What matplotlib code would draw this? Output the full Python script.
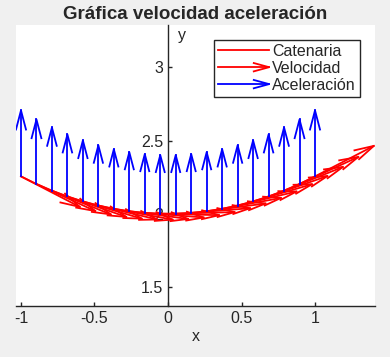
import matplotlib.pyplot as plt
from matplotlib.lines import Line2D
from matplotlib.legend_handler import HandlerBase

plt.rcParams['font.family'] = ['Liberation Sans', 'DejaVu Sans']

# puntos de la catenaria y = 2 cosh(x/2), 20 muestras entre -1 y 1
xs = [-1.0, -0.8947, -0.7895, -0.6842, -0.5789, -0.4737, -0.3684, -0.2632, -0.1579, -0.0526,
      0.0526, 0.1579, 0.2632, 0.3684, 0.4737, 0.5789, 0.6842, 0.7895, 0.8947, 1.0]
ys = [2.2553, 2.2035, 2.1579, 2.1182, 2.0844, 2.0564, 2.0340, 2.0173, 2.0062, 2.0007,
      2.0007, 2.0062, 2.0173, 2.0340, 2.0564, 2.0844, 2.1182, 2.1579, 2.2035, 2.2553]
# velocidad (1, sinh(x/2))
vx = [1.0] * 20
vy = [-0.5211, -0.4624, -0.4051, -0.3488, -0.2935, -0.2391, -0.1853, -0.1320, -0.0790, -0.0263,
      0.0263, 0.0790, 0.1320, 0.1853, 0.2391, 0.2935, 0.3488, 0.4051, 0.4624, 0.5211]
# aceleracion (0, cosh(x/2)/2)
ax_ = [0.0] * 20
ay_ = [0.5638, 0.5509, 0.5395, 0.5295, 0.5211, 0.5141, 0.5085, 0.5043, 0.5016, 0.5002,
       0.5002, 0.5016, 0.5043, 0.5085, 0.5141, 0.5211, 0.5295, 0.5395, 0.5509, 0.5638]

labels = ['Catenaria', 'Velocidad', 'Aceleración']
txt = '#262626'


def flechas(ax, x, y, u, v, escala, color, lw=1.3):
    # flechas estilo quiver de matlab: linea + cabeza abierta
    a, b = 0.29, 0.26
    for x0, y0, u0, v0 in zip(x, y, u, v):
        u0, v0 = u0 * escala, v0 * escala
        ax.plot([x0, x0 + u0], [y0, y0 + v0], color=color, lw=lw, zorder=3)
        hx = [x0 + u0 - a * (u0 + b * v0), x0 + u0, x0 + u0 - a * (u0 - b * v0)]
        hy = [y0 + v0 - a * (v0 - b * u0), y0 + v0, y0 + v0 - a * (v0 + b * u0)]
        ax.plot(hx, hy, color=color, lw=lw, zorder=3)


class HandlerFlecha(HandlerBase):
    def create_artists(self, legend, orig, xd, yd, w, h, fs, trans):
        y = h / 2 - yd
        x0, x1 = -xd, -xd + w
        c = orig.get_color()
        l1 = Line2D([x0, x1], [y, y], color=c, lw=1.3, transform=trans)
        l2 = Line2D([x1 - 0.3 * w, x1, x1 - 0.3 * w], [y + 3, y, y - 3], color=c, lw=1.3, transform=trans)
        return [l1, l2]


fig = plt.figure(figsize=(3.9, 3.57), dpi=100, facecolor='#f0f0f0')
ax = fig.add_axes([0.041, 0.143, 0.9205, 0.787])

ax.plot(xs, ys, color='red', lw=1.3, zorder=3)
flechas(ax, xs, ys, vx, vy, 0.4, 'red')
flechas(ax, xs, ys, ax_, ay_, 0.8, 'blue')

ax.set_xlim(-1.034, 1.408)
ax.set_ylim(1.37, 3.29)
ax.set_xticks([-1, -0.5, 0, 0.5, 1])
ax.set_xticklabels(['-1', '-0.5', '0', '0.5', '1'])
ax.set_yticks([1.5, 2, 2.5, 3])
ax.set_yticklabels(['1.5', '2', '2.5', '3'])

ax.spines['left'].set_position(('data', 0))
ax.spines['top'].set_visible(False)
ax.spines['right'].set_visible(False)
for s in ['left', 'bottom']:
    ax.spines[s].set_color(txt)
    ax.spines[s].set_linewidth(1.0)
ax.tick_params(direction='in', length=3, width=1, colors=txt, labelsize=11.5)

ax.set_xlabel('x', fontsize=11.5, color=txt, labelpad=2)
ax.set_ylabel('y', fontsize=11.5, color=txt, rotation=0)
ax.yaxis.set_label_coords(0.462, 0.936)
ax.set_title('Gráfica velocidad aceleración', fontsize=13.5, fontweight='bold', color=txt, pad=4)

hs = [Line2D([], [], color='red', lw=1.3), Line2D([], [], color='red'), Line2D([], [], color='blue')]
leg = ax.legend(hs, labels, loc='upper right', bbox_to_anchor=(0.958, 0.947), fontsize=11.5,
                handlelength=3.2, handletextpad=0.2, labelspacing=0.12, borderpad=0.25,
                borderaxespad=0, fancybox=False, framealpha=1, edgecolor=txt,
                handler_map={hs[1]: HandlerFlecha(), hs[2]: HandlerFlecha()})
leg.get_frame().set_linewidth(1.0)
for t in leg.get_texts():
    t.set_color(txt)

fig.savefig('out.png', dpi=100, facecolor=fig.get_facecolor())
